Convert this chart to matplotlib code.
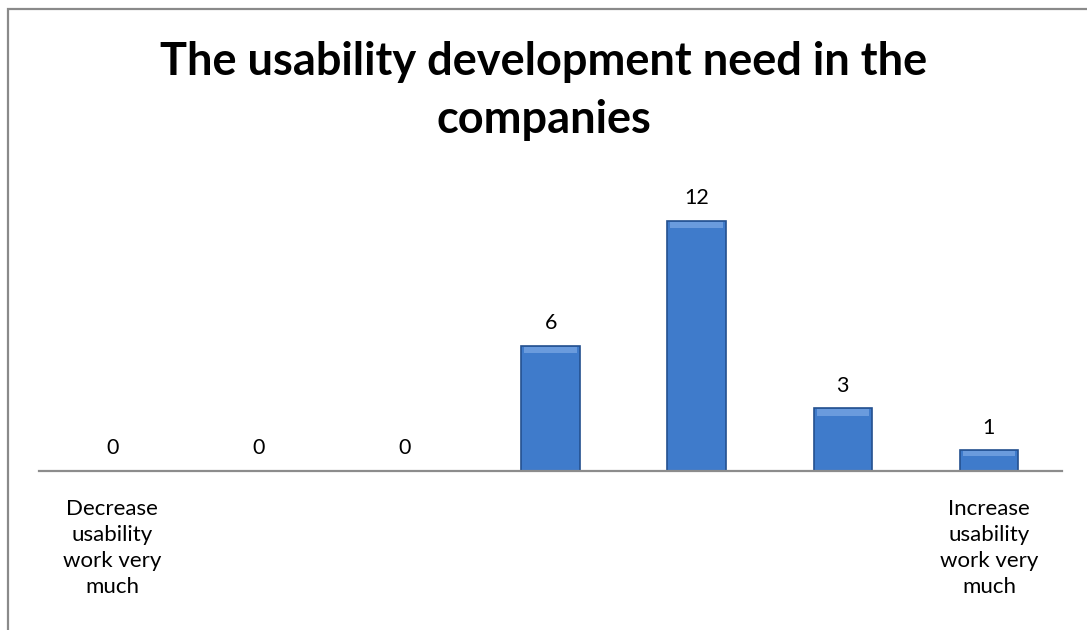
import matplotlib.pyplot as plt
from matplotlib.patches import Rectangle

# chart data
categories = [
    "Decrease\nusability\nwork very\nmuch",
    "", "", "", "", "",
    "Increase\nusability\nwork very\nmuch",
]
values = [0, 0, 0, 6, 12, 3, 1]
title = "The usability development need in the\ncompanies"

plt.rcParams["font.family"] = ["Lato", "DejaVu Sans"]

fig = plt.figure(figsize=(10.87, 6.3), dpi=100)
ax = fig.add_axes([0.036, 0.2524, 0.941, 0.4636])

x = list(range(len(values)))
bars = ax.bar(x, values, width=0.4, color="#3F7BCB", edgecolor="#24508F", linewidth=1.2, zorder=3)

# small highlight on top of each bar to hint the bevel
for b in bars:
    h = b.get_height()
    if h > 0:
        ax.add_patch(Rectangle((b.get_x() + 0.02, h - min(0.35, h * 0.3)), b.get_width() - 0.04,
                               min(0.3, h * 0.25), facecolor="#6A9BDD", edgecolor="none", zorder=4))

for xi, v in zip(x, values):
    ax.text(xi, v + 0.6, str(v), ha="center", va="bottom", fontsize=15.5, color="black")

ax.set_xlim(-0.5, len(values) - 0.5)
ax.set_ylim(0, 14)
ax.set_xticks(x)
ax.set_xticklabels(categories, fontsize=16, linespacing=1.37)
ax.tick_params(axis="x", length=0, pad=20)
ax.set_yticks([])
for s in ["top", "right", "left"]:
    ax.spines[s].set_visible(False)
ax.spines["bottom"].set_color("#8C8C8C")
ax.spines["bottom"].set_linewidth(1.6)
ax.spines["bottom"].set_zorder(5)

fig.text(0.5, 0.856, title, ha="center", va="center", fontsize=32.5, fontweight="bold",
         linespacing=1.47)

# outer chart border (cropped on right and bottom)
fig.patches.append(Rectangle((8 / 1087, -0.1), 1.2, 1.1 - 9 / 630, transform=fig.transFigure,
                             fill=False, edgecolor="#8A8A8A", linewidth=1.6))

fig.savefig("out.png", dpi=100)
